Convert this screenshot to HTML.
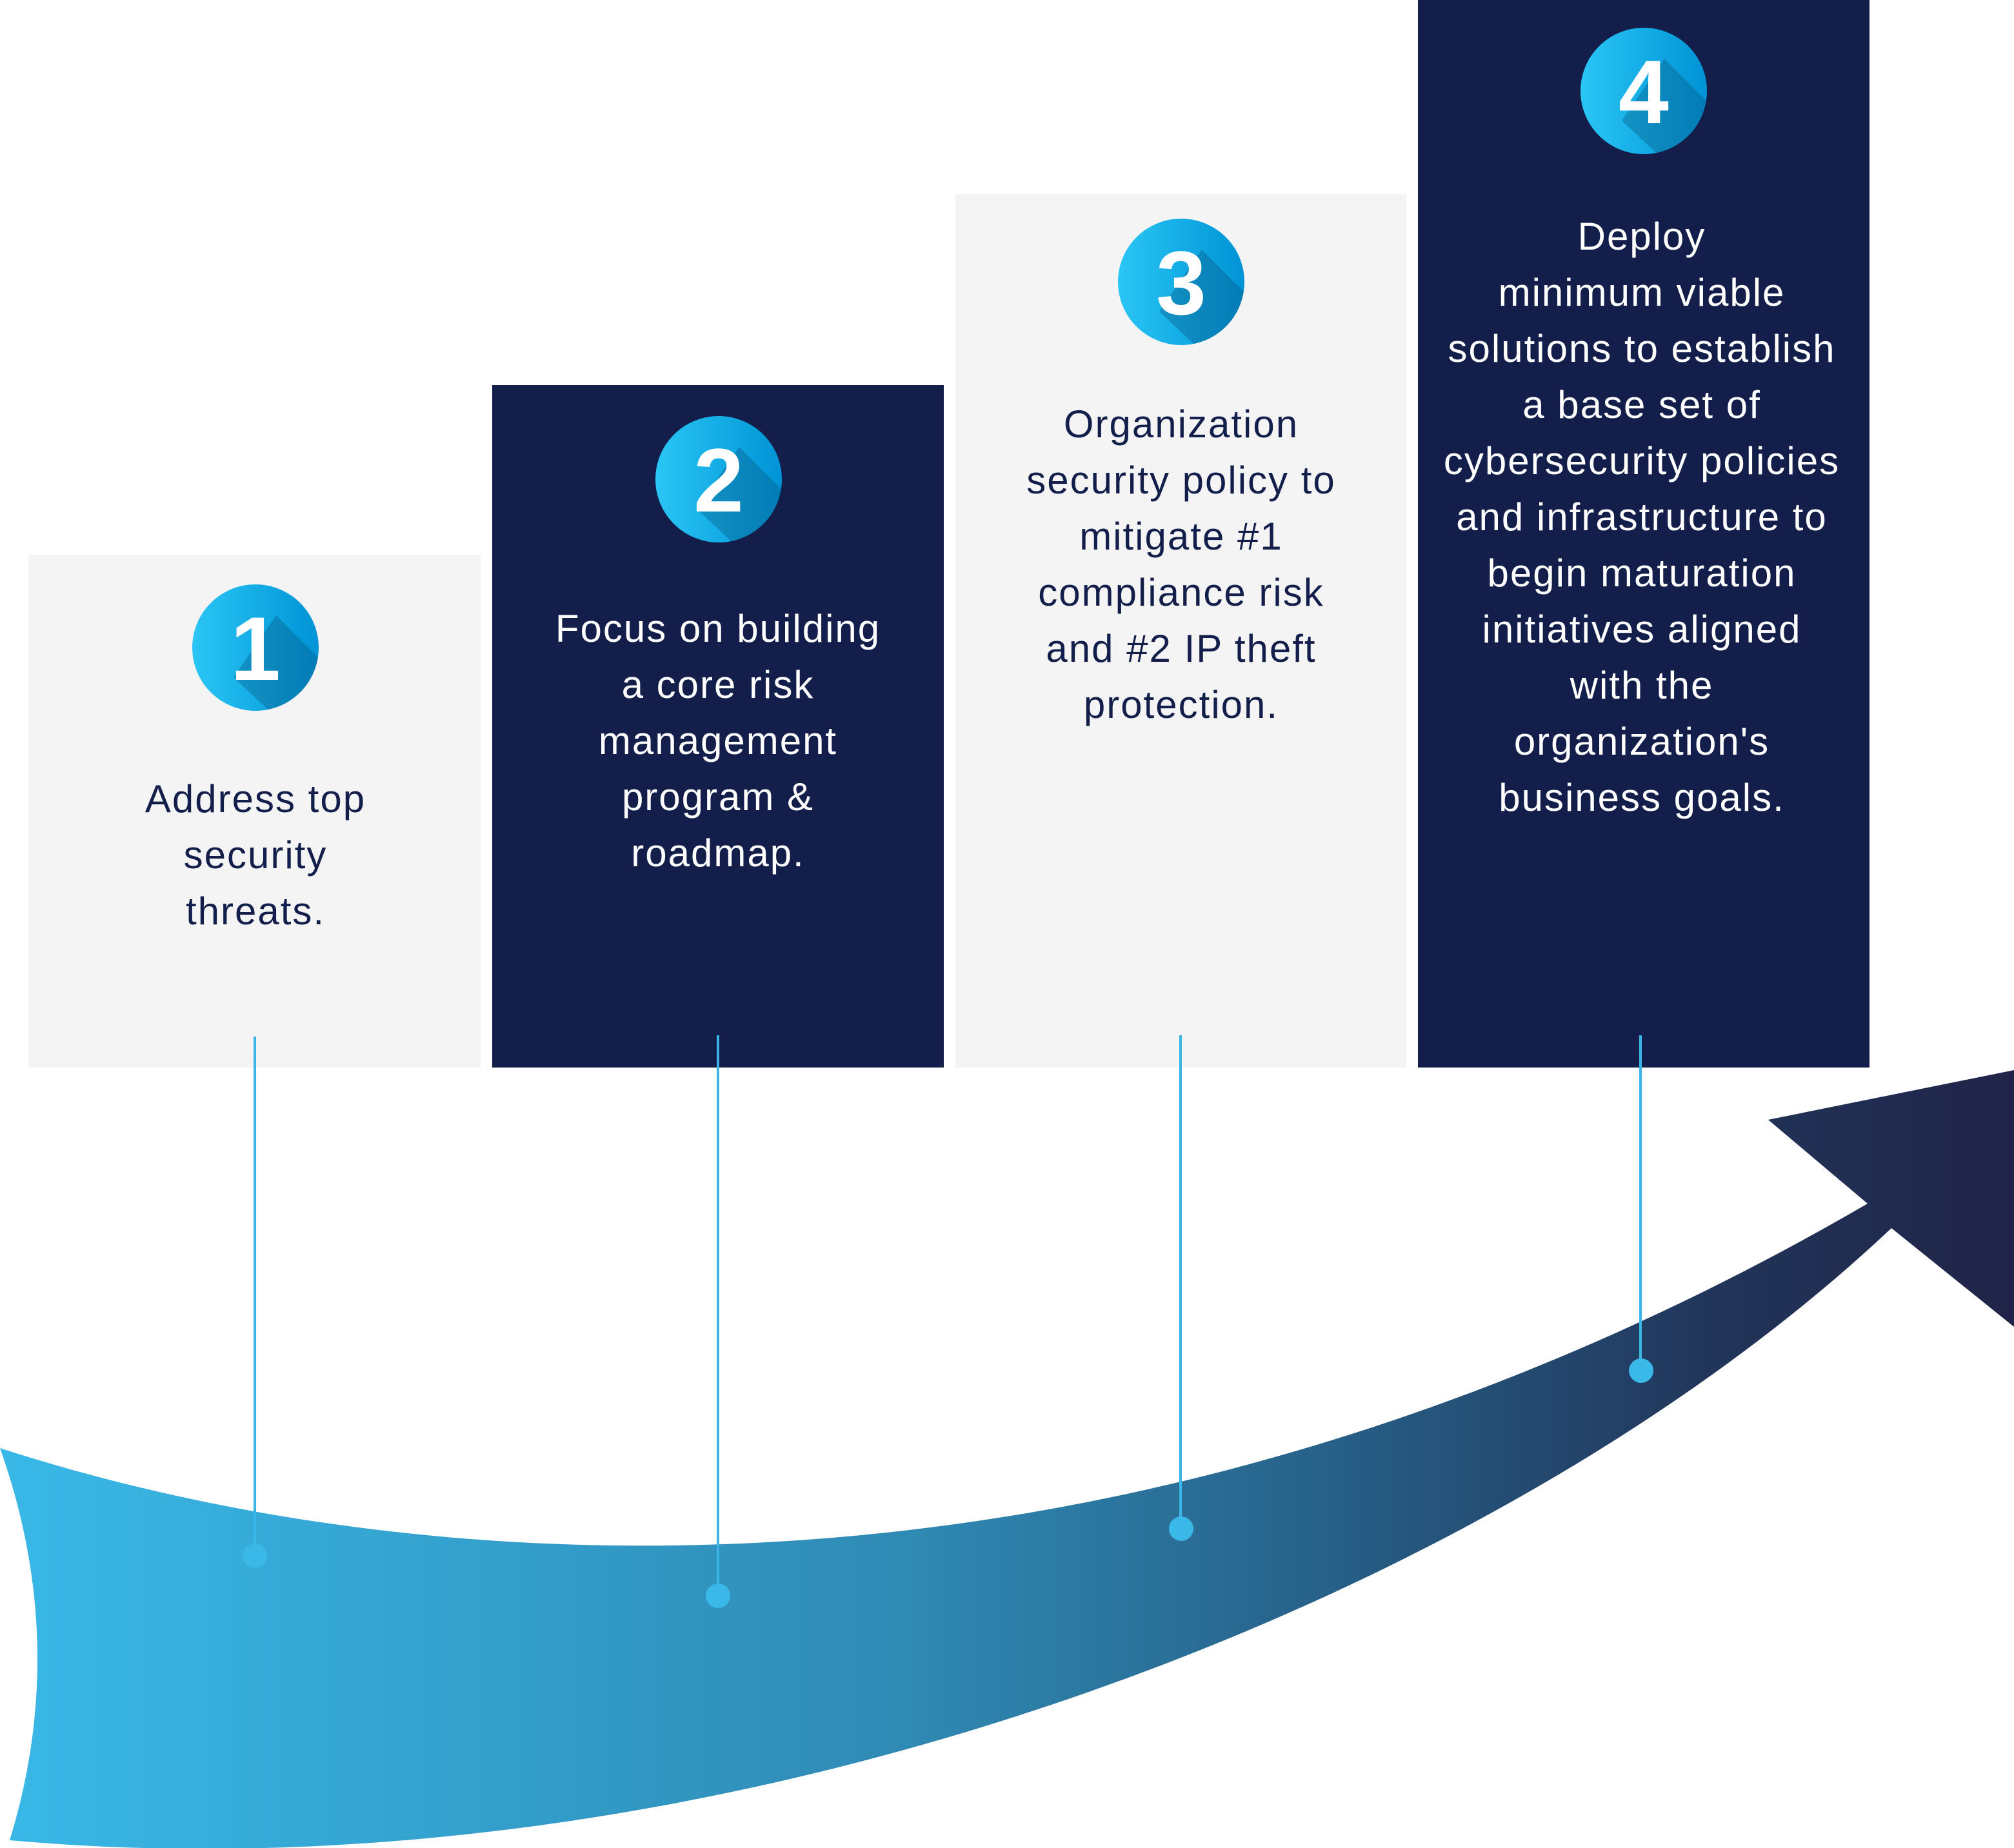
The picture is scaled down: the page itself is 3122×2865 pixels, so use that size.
<!DOCTYPE html>
<html><head><meta charset="utf-8">
<style>
html,body{margin:0;padding:0;background:#fff;}
body{width:3122px;height:2865px;position:relative;overflow:hidden;font-family:"Liberation Sans",sans-serif;}
.box{position:absolute;}
.g{background:#f4f4f4;}
.n{background:#131f4a;}
.t{position:absolute;text-align:center;font-size:60px;letter-spacing:2px;line-height:87px;white-space:nowrap;transform:translateX(-50%);}
.tg{color:#131f4a;}
.tn{color:#fff;}
svg{position:absolute;left:0;top:0;}
</style></head><body>
<div class="box g" style="left:44px;top:860px;width:701px;height:795px;"></div>
<div class="box n" style="left:763px;top:597px;width:700px;height:1058px;"></div>
<div class="box g" style="left:1481px;top:301px;width:699px;height:1354px;"></div>
<div class="box n" style="left:2198px;top:0;width:700px;height:1655px;"></div>

<svg width="3122" height="2865" viewBox="0 0 3122 2865">
<defs>
<linearGradient id="ag" x1="0" y1="0" x2="3122" y2="0" gradientUnits="userSpaceOnUse">
<stop offset="0" stop-color="#39b8e7"/>
<stop offset="0.45" stop-color="#2f8ab4"/>
<stop offset="0.65" stop-color="#27628a"/>
<stop offset="0.85" stop-color="#22355a"/>
<stop offset="1" stop-color="#1f2347"/>
</linearGradient>
<linearGradient id="cg" x1="0" y1="0" x2="1" y2="0">
<stop offset="0" stop-color="#2ac6f5"/>
<stop offset="1" stop-color="#0093d6"/>
</linearGradient>
<clipPath id="cc"><circle cx="0" cy="0" r="98"/></clipPath>
<g id="badge">
<circle cx="0" cy="0" r="98" fill="url(#cg)"/>
<polygon clip-path="url(#cc)" points="32,-50 190,108 130,200 -34,46" fill="#06507a" opacity="0.35"/>
</g>
</defs>
<path d="M0,2245 C600,2440 1700,2560 2895,1866 L2741,1736 L3122,1659 L3122,2057 L2932,1904 C2300,2500 1100,2950 15,2853 Q108,2550 0,2245 Z" fill="url(#ag)"/>
<g stroke="#3ab5e5" stroke-width="4">
<line x1="395" y1="1607" x2="395" y2="2410"/>
<line x1="1113" y1="1605" x2="1113" y2="2473"/>
<line x1="1830" y1="1605" x2="1830" y2="2369"/>
<line x1="2543" y1="1605" x2="2543" y2="2124"/>
</g>
<g fill="#3ab9e8">
<circle cx="395" cy="2412" r="19"/>
<circle cx="1113" cy="2474" r="19"/>
<circle cx="1831" cy="2370" r="19"/>
<circle cx="2544" cy="2125" r="19"/>
</g>
<g font-family="Liberation Sans, sans-serif" font-weight="bold" font-size="140" fill="#fff" text-anchor="middle">
<g transform="translate(396,1004)"><use href="#badge"/><text x="0" y="50">1</text></g>
<g transform="translate(1114,743)"><use href="#badge"/><text x="0" y="50">2</text></g>
<g transform="translate(1831,437)"><use href="#badge"/><text x="0" y="50">3</text></g>
<g transform="translate(2548,141)"><use href="#badge"/><text x="0" y="50">4</text></g>
</g>
</svg>

<div class="t tg" style="left:396px;top:1195px;">Address top<br>security<br>threats.</div>
<div class="t tn" style="left:1113px;top:931px;">Focus on building<br>a core risk<br>management<br>program &amp;<br>roadmap.</div>
<div class="t tg" style="left:1831px;top:614px;">Organization<br>security policy to<br>mitigate #1<br>compliance risk<br>and #2 IP theft<br>protection.</div>
<div class="t tn" style="left:2545px;top:323px;">Deploy<br>minimum viable<br>solutions to establish<br>a base set of<br>cybersecurity policies<br>and infrastructure to<br>begin maturation<br>initiatives aligned<br>with the<br>organization's<br>business goals.</div>
</body></html>
